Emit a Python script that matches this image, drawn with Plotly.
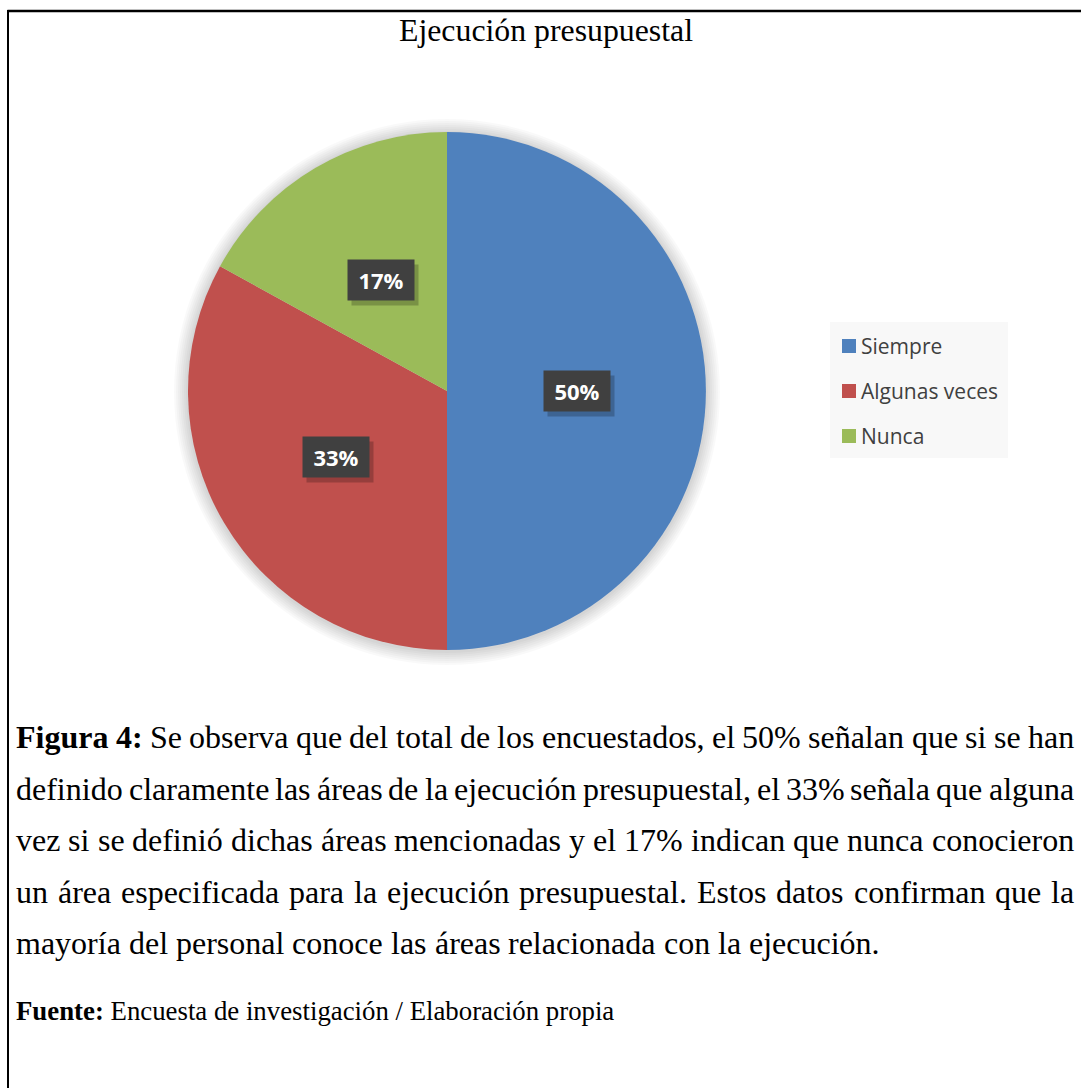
import math
import plotly.graph_objects as go

W, H = 1081, 1088

# ---------------- data ----------------
chart_title = "Ejecución presupuestal"
categories = ["Siempre", "Algunas veces", "Nunca"]
values = [50, 33, 17]
colors = ["#4F81BD", "#C0504D", "#9BBB59"]

caption_bold = "Figura 4:"
caption_lines = [
    "Figura 4: Se observa que del total de los encuestados, el 50% señalan que si se han",
    "definido claramente las áreas de la ejecución presupuestal, el 33% señala que alguna",
    "vez si se definió dichas áreas mencionadas y el 17% indican que nunca conocieron",
    "un área especificada para la ejecución presupuestal. Estos datos confirman que la",
    "mayoría del personal conoce las áreas relacionada con la ejecución.",
]
source_bold = "Fuente:"
source_text = "Encuesta de investigación / Elaboración propia"

# ---------------- helpers ----------------
def px(x):
    return x / W


def py(y):
    return 1 - y / H


# approximate Times advance widths (1/1000 em) for justified layout
TR = {' ': 250, '%': 833, ',': 250, '.': 250, '/': 278, ':': 278,
      'E': 611, 'F': 556, 'S': 556,
      'a': 444, 'b': 500, 'c': 444, 'd': 500, 'e': 444, 'f': 333, 'g': 500,
      'h': 500, 'i': 278, 'j': 278, 'k': 500, 'l': 278, 'm': 778, 'n': 500,
      'o': 500, 'p': 500, 'q': 500, 'r': 333, 's': 389, 't': 278, 'u': 500,
      'v': 500, 'w': 722, 'x': 500, 'y': 500, 'z': 444}
TB = dict(TR)
TB.update({'F': 611, 'u': 556, 'r': 444, 'a': 500, 'n': 556, 't': 333, ':': 333})
ACC = {'á': 'a', 'é': 'e', 'í': 'i', 'ó': 'o', 'ú': 'u', 'ñ': 'n'}


def word_w(w, size, bold=False):
    tbl = TB if bold else TR
    tot = 0
    for ch in w:
        ch = ACC.get(ch, ch)
        if ch.isdigit():
            tot += 500
        else:
            tot += tbl.get(ch, 500)
    return tot * size / 1000.0


SERIF = "Liberation Serif, Times New Roman, serif"
SANS = "Open Sans, Noto Sans, sans-serif"

PIE_L, PIE_R, PIE_T, PIE_B = 188, 706, 132, 650
cx, cy = (PIE_L + PIE_R) / 2, (PIE_T + PIE_B) / 2
R = (PIE_R - PIE_L) / 2

fig = go.Figure(go.Pie(
    labels=categories, values=values, sort=False, direction="clockwise",
    rotation=0, marker=dict(colors=colors, line=dict(width=0)),
    textinfo="none", hoverinfo="label+percent", showlegend=False,
    domain=dict(x=[px(PIE_L), px(PIE_R)], y=[py(PIE_B), py(PIE_T)]),
))

shapes = []
# soft shadow around the pie
for k in range(14, 0, -2):
    shapes.append(dict(type="circle", xref="paper", yref="paper", layer="below",
                       x0=px(cx - R - k), x1=px(cx + R + k),
                       y0=py(cy + R + k + 1), y1=py(cy - R - k + 1),
                       fillcolor="rgba(0,0,0,0.022)", line=dict(width=0)))
# frame lines
shapes.append(dict(type="line", xref="paper", yref="paper", x0=px(7.5), x1=1,
                   y0=py(11), y1=py(11), line=dict(color="black", width=2.5)))
shapes.append(dict(type="line", xref="paper", yref="paper", x0=px(8), x1=px(8),
                   y0=py(10), y1=0, line=dict(color="black", width=2)))
# legend background
LG_L, LG_R, LG_T, LG_B = 830, 1008, 322, 458
shapes.append(dict(type="rect", xref="paper", yref="paper", layer="below",
                   x0=px(LG_L), x1=px(LG_R), y0=py(LG_B), y1=py(LG_T),
                   fillcolor="#F8F8F8", line=dict(width=0)))

annotations = []
# title
annotations.append(dict(text=chart_title, x=px(546), y=py(30), xref="paper", yref="paper",
                        xanchor="center", yanchor="middle", showarrow=False,
                        font=dict(family=SERIF, size=31.8, color="black")))

# legend entries
leg_y0, leg_dy = 346, 45
for i, (cat, col) in enumerate(zip(categories, colors)):
    yy = leg_y0 + i * leg_dy
    shapes.append(dict(type="rect", xref="paper", yref="paper",
                       x0=px(842), x1=px(856), y0=py(yy + 7), y1=py(yy - 7),
                       fillcolor=col, line=dict(width=0)))
    annotations.append(dict(text=cat, x=px(861), y=py(yy), xref="paper", yref="paper",
                            xanchor="left", yanchor="middle", showarrow=False,
                            borderpad=0, borderwidth=0,
                            font=dict(family=SANS, size=21, color="#404040")))

# data labels at half radius of each slice's mid-angle
total = sum(values)
cum = 0
for v in values:
    mid = (cum + v / 2) / total * 2 * math.pi
    cum += v
    lx = cx + 0.5 * R * math.sin(mid)
    ly = cy - 0.5 * R * math.cos(mid)
    txt = f"{round(v / total * 100)}%"
    annotations.append(dict(text="", x=px(lx + 4), y=py(ly + 5), xref="paper", yref="paper",
                            xanchor="center", yanchor="middle", showarrow=False,
                            width=64, height=38, bgcolor="rgba(0,0,0,0.22)"))
    annotations.append(dict(text=f"<b>{txt}</b>", x=px(lx), y=py(ly), xref="paper", yref="paper",
                            xanchor="center", yanchor="middle", showarrow=False,
                            width=64, height=38, bgcolor="#404040",
                            font=dict(family=SANS, size=22, color="white")))

# caption, justified word by word
CAP_SIZE = 32
TXT_L, TXT_R = 16, 1074
line_y0, line_dy = 737, 51.6
for li, line in enumerate(caption_lines):
    words = line.split(" ")
    nb = len(caption_bold.split(" ")) if li == 0 else 0
    bolds = [wi < nb for wi in range(len(words))]
    widths = [word_w(w, CAP_SIZE, b) for w, b in zip(words, bolds)]
    last = li == len(caption_lines) - 1
    if last:
        gap = word_w(" ", CAP_SIZE)
    else:
        gap = (TXT_R - TXT_L - sum(widths)) / (len(words) - 1)
    x = TXT_L
    yy = line_y0 + li * line_dy
    for w, b, ww in zip(words, bolds, widths):
        annotations.append(dict(text=f"<b>{w}</b>" if b else w, x=px(x), y=py(yy),
                                xref="paper", yref="paper", xanchor="left", yanchor="middle",
                                showarrow=False, borderpad=0, borderwidth=0,
                                font=dict(family=SERIF, size=CAP_SIZE, color="black")))
        x += ww + gap

# source
annotations.append(dict(text=f"<b>{source_bold}</b> {source_text}", x=px(TXT_L), y=py(1011),
                        xref="paper", yref="paper", xanchor="left", yanchor="middle",
                        showarrow=False, borderpad=0, borderwidth=0,
                        font=dict(family=SERIF, size=26.8, color="black")))

fig.update_layout(
    width=W, height=H, autosize=False,
    margin=dict(l=0, r=0, t=0, b=0),
    paper_bgcolor="white", plot_bgcolor="white",
    shapes=shapes, annotations=annotations,
    showlegend=False,
)

fig.write_html("out.html")
